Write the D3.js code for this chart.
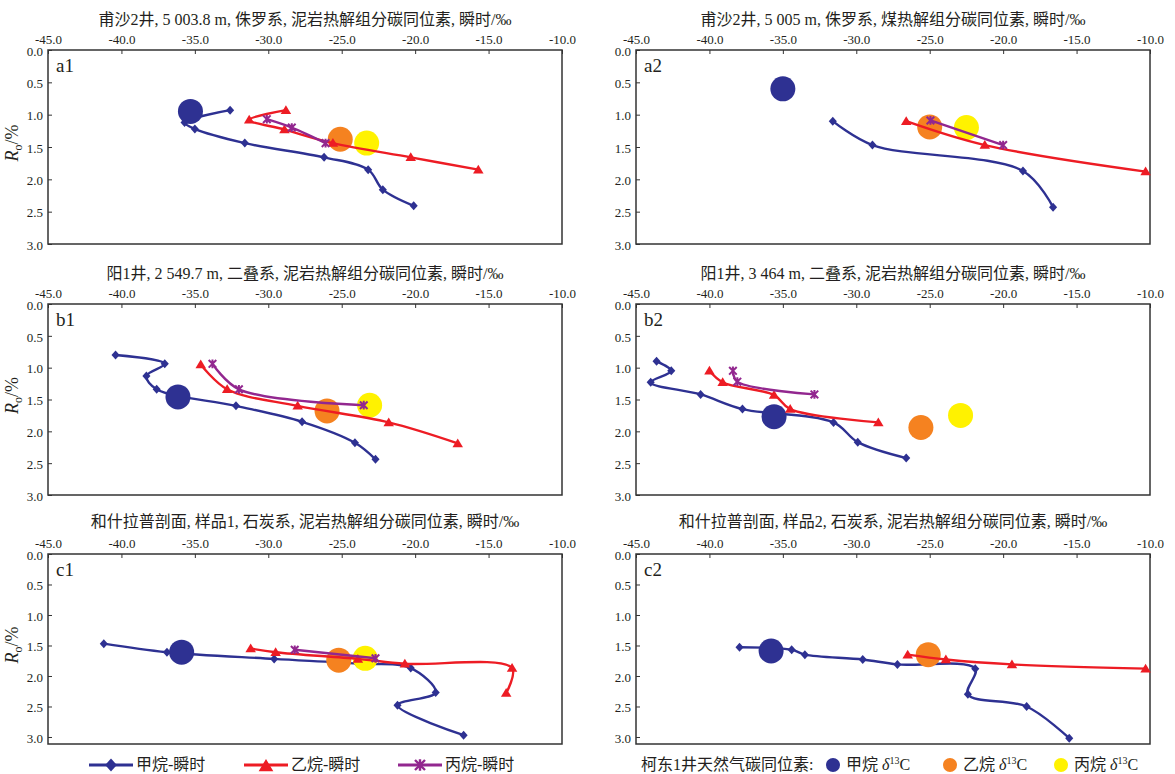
<!DOCTYPE html>
<html><head><meta charset="utf-8">
<script src="https://cdn.jsdelivr.net/npm/d3@7"></script>
<style>
html,body{margin:0;padding:0;background:#fff;}
svg text{font-family:"Liberation Serif","Noto Sans CJK SC",serif;fill:#231f20;}
</style></head>
<body><svg id="chart" width="1175" height="774"></svg>
<script>
// ---------- data ----------
const xTicks = [-45, -40, -35, -30, -25, -20, -15, -10];
const yTicks = [0, 0.5, 1.0, 1.5, 2.0, 2.5, 3.0];
const panelIds = ["a1", "a2", "b1", "b2", "c1", "c2"];
const panelTitles = [
  "甫沙2井, 5 003.8 m, 侏罗系, 泥岩热解组分碳同位素, 瞬时/‰",
  "甫沙2井, 5 005 m, 侏罗系, 煤热解组分碳同位素, 瞬时/‰",
  "阳1井, 2 549.7 m, 二叠系, 泥岩热解组分碳同位素, 瞬时/‰",
  "阳1井, 3 464 m, 二叠系, 泥岩热解组分碳同位素, 瞬时/‰",
  "和什拉普剖面, 样品1, 石炭系, 泥岩热解组分碳同位素, 瞬时/‰",
  "和什拉普剖面, 样品2, 石炭系, 泥岩热解组分碳同位素, 瞬时/‰"
];
// [δ13C ‰, Ro %]
const a1Methane = [[-32.6,0.93],[-35.7,1.12],[-35.0,1.22],[-31.6,1.44],[-26.2,1.66],[-23.2,1.85],[-22.2,2.16],[-20.1,2.41]];
const a1Ethane  = [[-28.8,0.93],[-31.3,1.08],[-28.9,1.23],[-25.6,1.44],[-20.3,1.66],[-15.7,1.85]];
const a1Propane = [[-30.1,1.07],[-28.4,1.20],[-26.1,1.44]];
const a1Gas     = [[-35.3,0.95],[-25.1,1.38],[-23.3,1.44]];

const a2Methane = [[-31.6,1.10],[-28.9,1.47],[-18.65,1.87],[-16.6,2.43]];
const a2Ethane  = [[-26.6,1.10],[-21.25,1.47],[-10.3,1.88]];
const a2Propane = [[-24.95,1.09],[-20.0,1.47]];
const a2Gas     = [[-35.0,0.60],[-25.0,1.19],[-22.5,1.20]];

const b1Methane = [[-40.4,0.80],[-37.05,0.94],[-38.3,1.13],[-37.6,1.34],[-32.2,1.60],[-27.7,1.85],[-24.1,2.18],[-22.7,2.44]];
const b1Ethane  = [[-34.6,0.95],[-32.8,1.34],[-28.0,1.60],[-21.8,1.86],[-17.1,2.19]];
const b1Propane = [[-33.8,0.94],[-32.0,1.34],[-23.5,1.59]];
const b1Gas     = [[-36.15,1.46],[-26.0,1.68],[-23.1,1.59]];

const b2Methane = [[-43.6,0.90],[-42.6,1.05],[-44.0,1.23],[-40.6,1.42],[-37.75,1.65],[-31.55,1.86],[-29.9,2.17],[-26.6,2.42]];
const b2Ethane  = [[-40.0,1.05],[-39.1,1.23],[-35.6,1.43],[-34.5,1.65],[-28.5,1.86]];
const b2Propane = [[-38.4,1.05],[-38.1,1.22],[-32.85,1.42]];
const b2Gas     = [[-35.6,1.77],[-25.6,1.94],[-22.9,1.75]];

const c1Methane = [[-41.2,1.47],[-36.9,1.61],[-29.6,1.72],[-23.9,1.80],[-20.3,1.87],[-18.6,2.27],[-21.2,2.48],[-16.7,2.97]];
const c1Ethane  = [[-31.2,1.55],[-29.5,1.61],[-23.9,1.72],[-20.7,1.80],[-13.4,1.87],[-13.8,2.28]];
const c1Propane = [[-28.2,1.57],[-22.7,1.71]];
const c1Gas     = [[-35.9,1.61],[-25.2,1.74],[-23.4,1.71]];

const c2Methane = [[-37.95,1.53],[-34.4,1.57],[-33.5,1.65],[-29.56,1.73],[-27.2,1.81],[-21.9,1.88],[-22.4,2.30],[-18.4,2.50],[-15.5,3.02]];
const c2Ethane  = [[-26.5,1.65],[-23.9,1.73],[-19.4,1.81],[-10.3,1.88]];
const c2Propane = [];
const c2Gas     = [[-35.8,1.59],[-25.1,1.65]];

const seriesNames = ["甲烷-瞬时", "乙烷-瞬时", "丙烷-瞬时"];
const gasNames = ["甲烷", "乙烷", "丙烷"];
const legendLead = "柯东1井天然气碳同位素:";

// ---------- styles / layout ----------
const COL = {methane:"#2e3192", ethane:"#ed1c24", propane:"#92278f"};
const GAS = ["#2e3192", "#f58220", "#fff200"];
const cols = [{x0:48, x1:562}, {x0:636, x1:1150}];
const rows = [
  {y0:50,  y1:244, yMax:3.0,   tb:25},
  {y0:304, y1:495, yMax:3.0,   tb:279},
  {y0:554, y1:744, yMax:3.115, tb:527}
];
const panelData = {
  a1:[a1Methane,a1Ethane,a1Propane,a1Gas], a2:[a2Methane,a2Ethane,a2Propane,a2Gas],
  b1:[b1Methane,b1Ethane,b1Propane,b1Gas], b2:[b2Methane,b2Ethane,b2Propane,b2Gas],
  c1:[c1Methane,c1Ethane,c1Propane,c1Gas], c2:[c2Methane,c2Ethane,c2Propane,c2Gas]
};

const svg = d3.select("#chart");

function diamond(g, cx, cy, s, color){
  g.append("path").attr("d",`M${cx},${cy-s}L${cx+s*0.9},${cy}L${cx},${cy+s}L${cx-s*0.9},${cy}Z`).attr("fill",color);
}
function triangle(g, cx, cy, s, color){
  g.append("path").attr("d",`M${cx},${cy-s}L${cx+s*1.05},${cy+s*0.75}L${cx-s*1.05},${cy+s*0.75}Z`).attr("fill",color);
}
function star(g, cx, cy, s, color, w){
  g.append("path").attr("d",`M${cx-s},${cy-s}L${cx+s},${cy+s}M${cx-s},${cy+s}L${cx+s},${cy-s}M${cx},${cy-s*1.15}L${cx},${cy+s*1.15}`)
   .attr("stroke",color).attr("stroke-width",w).attr("fill","none");
}

panelIds.forEach((id, i) => {
  const c = cols[i % 2], r = rows[Math.floor(i / 2)];
  const x = d3.scaleLinear().domain([-45, -10]).range([c.x0, c.x1]);
  const y = d3.scaleLinear().domain([0, r.yMax]).range([r.y0, r.y1]);
  const g = svg.append("g");

  // title
  g.append("text").attr("x", (c.x0 + c.x1) / 2).attr("y", r.tb).attr("text-anchor","middle")
    .attr("font-size", 16).text(panelTitles[i]);

  // axes
  const ax = g.append("g").attr("transform", `translate(0,${r.y0})`)
    .call(d3.axisTop(x).tickValues(xTicks).tickSize(-4).tickPadding(6).tickFormat(d => d.toFixed(1)));
  const ay = g.append("g").attr("transform", `translate(${c.x0},0)`)
    .call(d3.axisLeft(y).tickValues(yTicks).tickSize(-4).tickPadding(5).tickFormat(d => d.toFixed(1)));
  [ax, ay].forEach(a => {
    a.select(".domain").remove();
    a.selectAll("line").attr("stroke","#333").attr("stroke-width",1);
    a.selectAll("text").attr("font-size",13).attr("font-family","Liberation Serif").attr("fill","#231f20");
  });
  ay.selectAll("text").attr("dy","0.4em");

  // frame
  g.append("rect").attr("x", c.x0).attr("y", r.y0).attr("width", c.x1 - c.x0).attr("height", r.y1 - r.y0)
    .attr("fill","none").attr("stroke","#333").attr("stroke-width",1.5);

  // panel label
  g.append("text").attr("x", c.x0 + 8).attr("y", r.y0 + 22).attr("font-size", 19).text(id);

  // y label (left column only)
  if (i % 2 === 0) {
    const t = g.append("text").attr("transform", `translate(18,${(r.y0 + r.y1) / 2 - 4}) rotate(-90)`)
      .attr("text-anchor","middle").attr("font-size", 18);
    t.append("tspan").attr("font-style","italic").text("R");
    t.append("tspan").attr("font-size", 12).attr("dy", 4).text("o");
    t.append("tspan").attr("dy", -4).text("/%");
  }

  const [me, et, pr, gas] = panelData[id];
  const line = d3.line().x(d => x(d[0])).y(d => y(d[1])).curve(d3.curveCatmullRom.alpha(0.5));

  // methane line + markers
  g.append("path").attr("d", line(me)).attr("fill","none").attr("stroke", COL.methane).attr("stroke-width", 2.4);
  me.forEach(d => diamond(g, x(d[0]), y(d[1]), 4.5, COL.methane));

  // natural gas circles
  gas.forEach((d, k) => g.append("circle").attr("cx", x(d[0])).attr("cy", y(d[1])).attr("r", 12.5).attr("fill", GAS[k]));

  // ethane
  if (et.length) {
    g.append("path").attr("d", line(et)).attr("fill","none").attr("stroke", COL.ethane).attr("stroke-width", 2.4);
    et.forEach(d => triangle(g, x(d[0]), y(d[1]), 5, COL.ethane));
  }
  // propane
  if (pr.length) {
    g.append("path").attr("d", line(pr)).attr("fill","none").attr("stroke", COL.propane).attr("stroke-width", 2.4);
    pr.forEach(d => star(g, x(d[0]), y(d[1]), 3.8, COL.propane, 2));
  }
});

// ---------- legends ----------
const ly = 765;
const leg = svg.append("g");
const legX = [89, 244, 398];
const legCol = [COL.methane, COL.ethane, COL.propane];
seriesNames.forEach((name, k) => {
  const x0 = legX[k];
  leg.append("line").attr("x1", x0).attr("x2", x0 + 44).attr("y1", ly).attr("y2", ly)
    .attr("stroke", legCol[k]).attr("stroke-width", 3);
  const mx = x0 + 22;
  if (k === 0) diamond(leg, mx, ly, 6.5, legCol[k]);
  if (k === 1) triangle(leg, mx, ly + 1, 7, legCol[k]);
  if (k === 2) star(leg, mx, ly, 5, legCol[k], 2.4);
  leg.append("text").attr("x", x0 + 47).attr("y", ly + 5).attr("font-size", 16).text(name);
});

leg.append("text").attr("x", 641).attr("y", ly + 5).attr("font-size", 16).text(legendLead);
const gasX = [833, 950, 1061];
gasNames.forEach((name, k) => {
  leg.append("circle").attr("cx", gasX[k]).attr("cy", ly).attr("r", 7).attr("fill", GAS[k]);
  const t = leg.append("text").attr("x", gasX[k] + 13).attr("y", ly + 5).attr("font-size", 16);
  t.append("tspan").text(name + " ");
  t.append("tspan").attr("font-style","italic").text("δ");
  t.append("tspan").attr("font-size", 10).attr("dy", -6).text("13");
  t.append("tspan").attr("dy", 6).text("C");
});
</script></body></html>
